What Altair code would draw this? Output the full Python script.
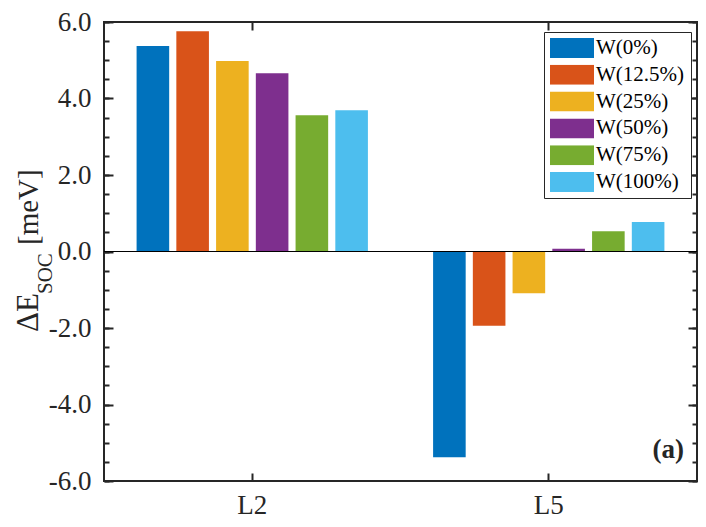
import altair as alt
import pandas as pd

# ---- data ----
categories = ["L2", "L5"]
series = ["W(0%)", "W(12.5%)", "W(25%)", "W(50%)", "W(75%)", "W(100%)"]
values_L2 = [5.37, 5.76, 4.98, 4.66, 3.56, 3.69]
values_L5 = [-5.38, -1.94, -1.09, 0.07, 0.53, 0.77]
colors = ["#0072BD", "#D95319", "#EDB120", "#7E2F8E", "#77AC30", "#4DBEEE"]
y_major = [-6.0, -4.0, -2.0, 0.0, 2.0, 4.0, 6.0]
y_minor = [-6.0, -5.5, -5.0, -4.5, -4.0, -3.5, -3.0, -2.5, -2.0, -1.5, -1.0, -0.5,
           0.0, 0.5, 1.0, 1.5, 2.0, 2.5, 3.0, 3.5, 4.0, 4.5, 5.0, 5.5, 6.0]
zero_line = [0.0]
title_parts = ["\u0394E", "SOC", "[meV]"]
panel_label = ["(a)"]

rows = []
for cat, vals in zip(categories, [values_L2, values_L5]):
    for s, v in zip(series, vals):
        rows.append({"cat": cat, "series": s, "value": v})
df = pd.DataFrame(rows)

W, H = 593, 459
FONT = "Liberation Serif"
INK = "#262626"

yscale = alt.Scale(domain=[-6, 6], nice=False)
xscale = alt.Scale(domain=categories, paddingInner=0, paddingOuter=0)


def y_axis(orient, values, size, labels=False):
    kw = dict(orient=orient, values=values, tickSize=size, offset=-size, domain=False,
              grid=False, title=None, tickColor=INK, tickWidth=2, labels=labels)
    if labels:
        kw.update(labelFont=FONT, labelFontSize=27, labelColor=INK, labelPadding=13,
                  labelExpr="(datum.value < 0 ? '-' : '') + format(abs(datum.value), '.1f')")
    return alt.Axis(**kw)


def x_axis(orient, labels=False):
    kw = dict(orient=orient, tickSize=8, offset=-8, domain=False, grid=False, title=None,
              tickColor=INK, tickWidth=2, labels=labels, labelAngle=0)
    if labels:
        kw.update(labelFont=FONT, labelFontSize=27, labelColor=INK, labelPadding=11)
    return alt.Axis(**kw)


legend = alt.Legend(
    title=None, orient="none", legendX=440, legendY=10,
    symbolType="M-1,-0.4545L1,-0.4545L1,0.4545L-1,0.4545Z", symbolSize=1936,
    clipHeight=20, rowPadding=5.8, labelOffset=2, labelFont=FONT, labelFontSize=21,
    labelColor="black", padding=6, strokeColor=INK, fillColor="white",
    symbolStrokeWidth=0, symbolOpacity=1, labelLimit=300,
)

base = alt.Chart(df)

bars = base.mark_bar().encode(
    x=alt.X("cat:N", scale=xscale, axis=x_axis("bottom", labels=True)),
    xOffset=alt.XOffset("series:N", sort=series,
                        scale=alt.Scale(paddingInner=0.18, paddingOuter=0.82)),
    y=alt.Y("value:Q", scale=yscale, axis=y_axis("left", y_major, 9, labels=True)),
    color=alt.Color("series:N", sort=series,
                    scale=alt.Scale(domain=series, range=colors), legend=legend),
)

hid_left = base.mark_bar(opacity=0).encode(
    x=alt.X("cat:N", scale=xscale, axis=x_axis("top")),
    y=alt.Y("value:Q", scale=yscale, axis=y_axis("left", y_minor, 5)),
)
hid_right_major = base.mark_bar(opacity=0).encode(
    x=alt.X("cat:N", scale=xscale, axis=None),
    y=alt.Y("value:Q", scale=yscale, axis=y_axis("right", y_major, 9)),
)
hid_right_minor = base.mark_bar(opacity=0).encode(
    x=alt.X("cat:N", scale=xscale, axis=None),
    y=alt.Y("value:Q", scale=yscale, axis=y_axis("right", y_minor, 5)),
)

zero = alt.Chart(pd.DataFrame({"z": zero_line})).mark_rule(color="black", strokeWidth=1).encode(
    y=alt.Y("z:Q", scale=yscale, axis=None)
)


def txt(s, x, y, size, weight="normal", angle=None, align="left", baseline="alphabetic"):
    mk = dict(align=align, baseline=baseline, font=FONT, fontSize=size,
              fontWeight=weight, color=INK)
    if angle is not None:
        mk["angle"] = angle
    return alt.Chart(pd.DataFrame({"t": [s]})).mark_text(**mk).encode(
        x=alt.value(x), y=alt.value(y), text="t:N")


t1 = txt(title_parts[0], -66, 310, 31, angle=270)
t2 = txt(title_parts[1], -52, 272, 21, angle=270)
t3 = txt(title_parts[2], -66, 223, 29, angle=270)
lab = txt(panel_label[0], 580, 436, 27, weight="bold", align="right")

chart = alt.layer(
    bars, zero, hid_left, hid_right_major, hid_right_minor, t1, t2, t3, lab
).resolve_scale(
    x="independent", y="independent"
).properties(
    width=W, height=H,
    autosize=alt.AutoSizeParams(type="none"),
    padding={"left": 96, "top": 14, "right": 1, "bottom": 38},
).configure_view(
    stroke=INK, strokeWidth=2
)

chart.save("out.html", embed_options={"renderer": "svg", "actions": False})
